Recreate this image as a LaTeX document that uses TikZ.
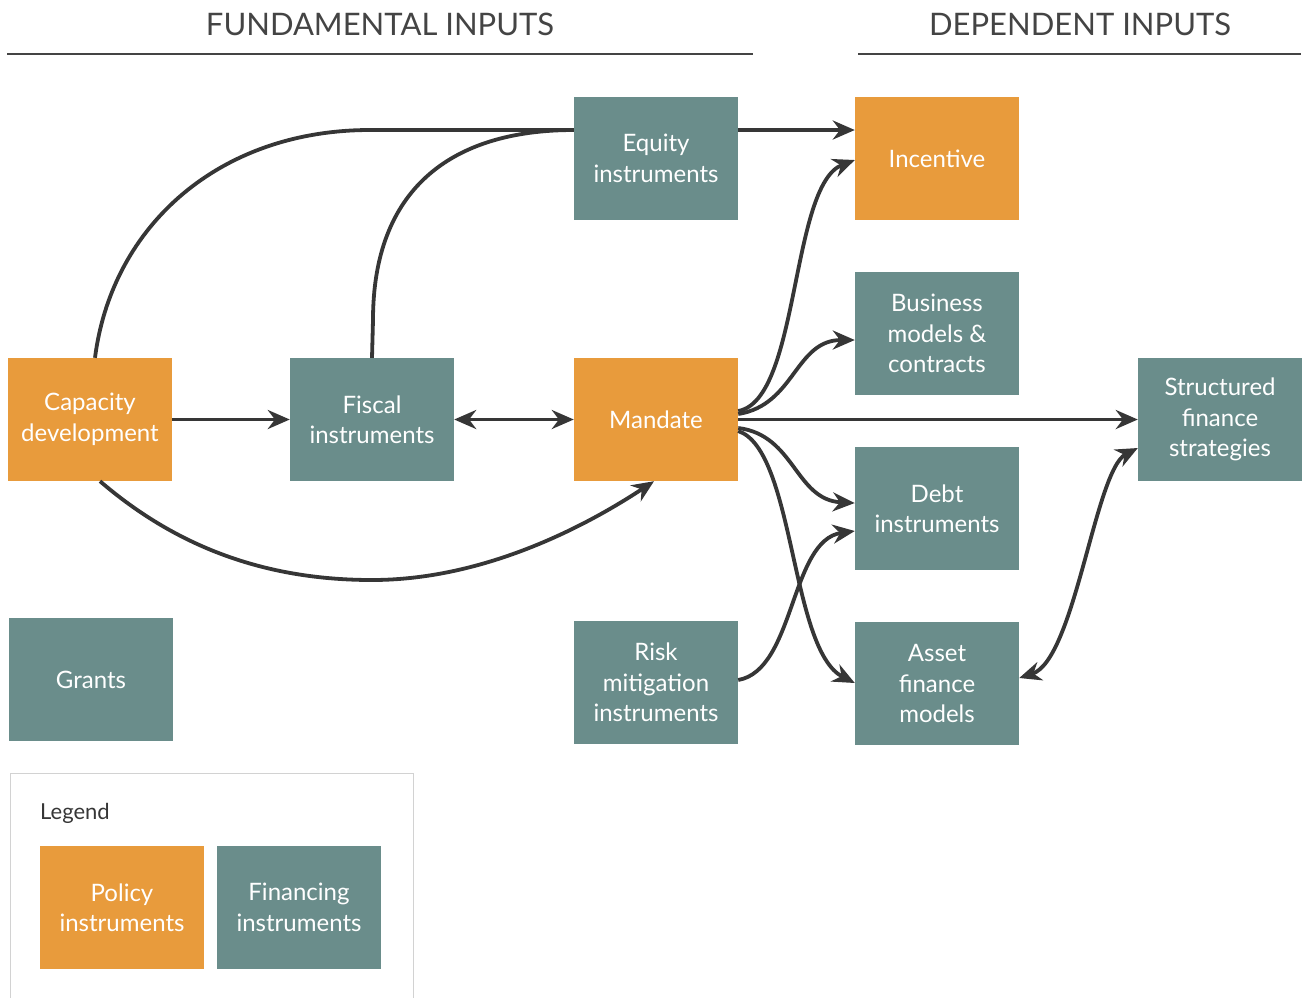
\documentclass[tikz,border=0pt]{standalone}
\usepackage{fontspec}
\setmainfont{Lato}
\usetikzlibrary{arrows.meta}
\definecolor{policy}{HTML}{E89B3C}
\definecolor{finance}{HTML}{6A8D8B}
\definecolor{ink}{HTML}{363636}
\definecolor{headgray}{HTML}{444444}
\begin{document}
\begin{tikzpicture}[x=1pt,y=-1pt,
  box/.style={minimum width=164pt,minimum height=123pt,inner sep=0pt,
    text=white,align=center,font=\fontsize{24}{30.5}\selectfont},
  pol/.style={box,fill=policy},
  fin/.style={box,fill=finance},
  link/.style={draw=ink,line width=3.8pt},
  tip/.style={Stealth[length=22pt,width=19pt]},
  arr/.style={link,-{Stealth[length=22pt,width=19pt]}},
  biarr/.style={link,{Stealth[length=22pt,width=19pt]}-{Stealth[length=22pt,width=19pt]}},
  head/.style={text=headgray,font=\fontsize{31}{34}\selectfont},
  rule/.style={draw=headgray,line width=1.4pt}]
\useasboundingbox (0,0) rectangle (1303,997);

% column headings
\node[head] (hfund) at (380,24) {FUNDAMENTAL INPUTS};
\node[head] (hdep) at (1080,24) {DEPENDENT INPUTS};
\coordinate (rf1) at (7,54);
\coordinate (rf2) at (753,54);
\coordinate (rd1) at (858,54);
\coordinate (rd2) at (1301,54);
\draw[rule] (rf1) -- (rf2);
\draw[rule] (rd1) -- (rd2);

% fundamental inputs
\node[pol] (cap) at (90,419.5) {Capacity\\development};
\node[fin] (fisc) at (372,419.5) {Fiscal\\instruments};
\node[pol] (mand) at (656,419.5) {Mandate};
\node[fin] (eq) at (656,158.5) {Equity\\instruments};
\node[fin] (grants) at (91,679.5) {Grants};
\node[fin] (risk) at (656,682.5) {Risk\\mitigation\\instruments};

% dependent inputs
\node[pol] (inc) at (937,158.5) {Incentive};
\node[fin] (bus) at (937,333.5) {Business\\models \&\\contracts};
\node[fin] (debt) at (937,508.5) {Debt\\instruments};
\node[fin] (asset) at (937,683.5) {Asset\\finance\\models};
\node[fin] (sfs) at (1220,419.5) {Structured\\finance\\strategies};

% connectors
\draw[link] (cap.north -| 95,0) .. controls (112,225) and (220,130) .. (370,130) -- (eq.west |- 0,130);
\draw[link] (fisc.north) -- (373,320) .. controls (373,190) and (450,130) .. (eq.west |- 0,130);
\draw[arr] (eq.east |- 0,130) -- (inc.west |- 0,130);
\draw[arr] (cap.east) -- (fisc.west);
\draw[biarr] (fisc.east) -- (mand.west);
\draw[arr] (cap.south -| 100,0) .. controls (180,550) and (270,580) .. (372,580)
  .. controls (480,580) and (580,530) .. (mand.south -| 654,0);

\draw[arr] (mand.east |- 0,411) .. controls (800,400) and (790,185) .. (inc.west |- 0,160);
\draw[arr] (mand.east |- 0,414) .. controls (795,405) and (795,340) .. (bus.west |- 0,340);
\draw[arr] (mand.east) -- (sfs.west);
\draw[arr] (mand.east |- 0,428) .. controls (795,435) and (795,500) .. (debt.west |- 0,503);
\draw[arr] (mand.east |- 0,431) .. controls (795,450) and (790,650) .. (asset.west |- 0,683);
\draw[arr] (risk.east |- 0,680) .. controls (795,670) and (790,540) .. (debt.west |- 0,531);
\draw[biarr] (sfs.west |- 0,448) .. controls (1095,470) and (1075,660) .. (asset.east |- 0,678);

% legend
\node[draw={rgb,255:red,210;green,210;blue,210},line width=1.2pt,minimum width=403pt,minimum height=240pt,inner sep=0pt,anchor=north west] (legend) at (10,773) {};
\node[anchor=west,text=ink,font=\fontsize{22}{24}\selectfont,inner sep=0pt] (legtitle) at (40,813) {Legend};
\node[pol] (legpol) at (122,907.5) {Policy\\instruments};
\node[fin] (legfin) at (299,907.5) {Financing\\instruments};
\end{tikzpicture}
\end{document}
